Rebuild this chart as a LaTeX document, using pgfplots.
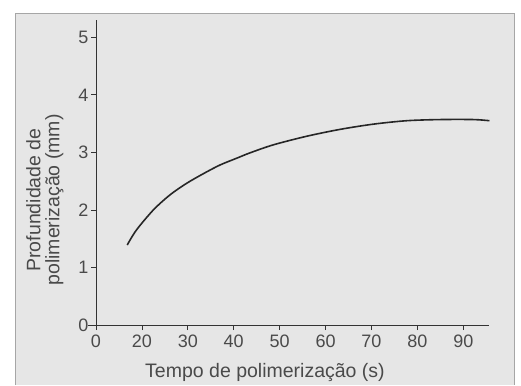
\documentclass[border=0pt]{standalone}
\usepackage{pgfplots}
\pgfplotsset{compat=1.18}
\usepackage{fontspec}
\setmainfont{Liberation Sans}
\definecolor{panel}{HTML}{E6E6E6}
\definecolor{txt}{HTML}{4A4A4A}
\definecolor{ax}{HTML}{333333}
\begin{document}
\begin{tikzpicture}[x=1pt,y=1pt]
\useasboundingbox (0,0) rectangle (521,385);
\fill[panel] (15,0) rectangle (514,372);
\draw[gray!70, line width=0.8pt] (15,0) -- (15,372) -- (514,372) -- (514,0);
\begin{axis}[
  at={(96pt,60pt)}, anchor=south west,
  scale only axis, width=393pt, height=305pt,
  xmin=10, xmax=95.6, ymin=0, ymax=5.3,
  axis lines=left, axis line style={-, ax, line width=1pt},
  clip=false,
  xtick={10,20,30,40,50,60,70,80,90},
  xticklabels={0,20,30,40,50,60,70,80,90},
  ytick={0,1,2,3,4,5},
  tick align=outside, major tick length=5pt,
  tick style={ax, line width=0.8pt},
  tick label style={font=\fontsize{18}{20}\selectfont, text=txt},
  /pgf/number format/assume math mode=true,
  xticklabel style={yshift=-1pt},
  yticklabel style={xshift=1pt},
  xlabel={Tempo de polimerização (s)},
  xlabel style={at={(axis description cs:0.43,-0.155)}, anchor=center, font=\fontsize{19.5}{21}\selectfont, text=txt},
  ylabel={Profundidade de\\polimerização (mm)},
  ylabel style={at={(axis description cs:-0.13,0.41)}, anchor=center, rotate=0, align=center, font=\fontsize{19.5}{19}\selectfont, text=txt},
]
\addplot[black!85, line width=1.6pt, smooth, tension=0.5] coordinates {
(16.8,1.39) (18.8,1.65) (22.5,2.00) (26.1,2.26) (29.7,2.46) (33.4,2.63) (37.0,2.78) (40.7,2.90) (43.5,2.99) (48.6,3.13) (55.9,3.28) (63.2,3.40) (70.4,3.49) (77.7,3.55) (85.0,3.57) (92.2,3.57) (95.7,3.55)
};
\draw[ax, line width=1pt] (axis cs:8.2,0) -- (axis cs:10,0);
\end{axis}
\end{tikzpicture}
\end{document}
